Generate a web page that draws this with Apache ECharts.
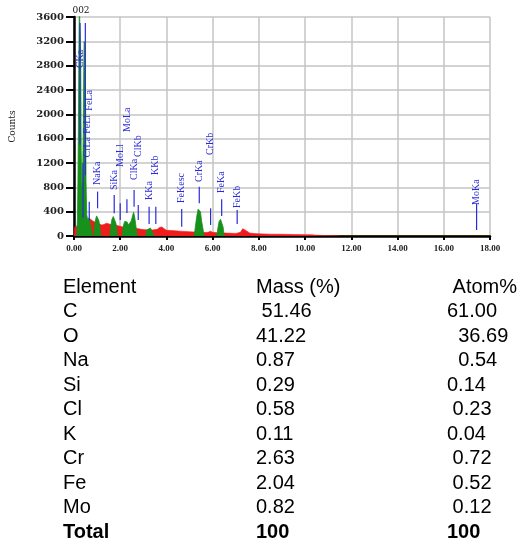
<!DOCTYPE html>
<html>
<head>
<meta charset="utf-8">
<script src="https://cdn.jsdelivr.net/npm/echarts@6/dist/echarts.min.js"></script>
<style>
html,body{margin:0;padding:0;background:#fff;}
#chart{width:528px;height:545px;}
</style>
</head>
<body>
<div id="chart"></div>
<script>
// ---- spectrum data (keV, counts) ----
const redEnergy = [0,0.03,0.1,0.2,0.3,0.4,0.5,0.6,0.7,0.8,0.9,1.0,1.1,1.2,1.3,1.4,1.5,1.6,1.7,1.8,1.9,2.0,2.1,2.2,2.3,2.4,2.5,2.6,2.7,2.8,2.9,3.0,3.2,3.4,3.6,3.7,3.8,3.9,4.0,4.2,4.4,4.6,4.8,5.0,5.2,5.4,5.6,5.8,5.9,6.0,6.2,6.4,6.6,6.8,7.0,7.2,7.3,7.4,7.6,7.8,8.0,8.5,9.0,9.5,10.0,10.3,10.5,10.8,11.2,11.5];
const redCounts = [0,150,160,170,180,200,230,260,280,250,230,220,200,180,190,210,200,190,200,180,170,160,150,150,140,140,130,130,125,120,110,105,100,100,110,140,150,120,95,90,85,80,75,70,65,60,58,60,80,60,55,50,48,45,42,60,120,100,50,40,35,30,28,25,22,20,12,8,5,0];

const greenEnergy = [0.12,0.15,0.17,0.19,0.21,0.23,0.26,0.29,0.31,0.34,0.37,0.40,0.42,0.44,0.47,0.50,0.52,0.55,0.60,0.65,0.70,0.75,0.80,0.82,
  0.86,0.89,0.93,0.98,1.03,1.08,1.12,1.16,1.20,
  1.55,1.59,1.64,1.70,1.76,1.82,1.88,1.95,
  2.08,2.13,2.19,2.24,2.30,2.36,2.42,2.48,2.54,2.58,2.63,2.68,2.74,2.80,
  3.10,3.15,3.22,3.31,3.38,3.46,3.50,
  5.20,5.25,5.31,5.37,5.42,5.47,5.52,5.58,5.63,5.70,
  6.18,6.23,6.28,6.34,6.40,6.45,6.50];
const greenCounts = [0,300,900,1800,2900,3800,3800,3000,1400,800,900,1700,2700,3200,3150,2200,900,350,250,300,200,120,0,null,
  0,150,270,330,320,250,130,0,null,
  0,150,270,320,300,200,0,null,
  0,160,240,265,230,180,200,250,340,390,300,160,0,null,
  0,100,125,130,115,0,null,
  0,150,320,440,455,400,250,120,0,null,
  0,140,240,275,250,150,0];

// ---- peak markers ----
const markerNames  = ["CKa","OKa","","CrLa","FeLl","FeLa","NaKa","SiKa","MoLl","MoLa","ClKa","ClKb","KKa","KKb","FeKesc","CrKa","CrKb","FeKa","FeKb","MoKa"];
const markerEnergy = [0.26,0.49,0.39,0.60,0.60,0.66,1.02,1.74,2.00,2.29,2.60,2.78,3.25,3.54,4.66,5.42,5.91,6.39,7.06,17.42];
const markerTop    = [3500,3500,1200,null,null,564,730,674,537,603,756,510,482,482,444,810,455,603,427,526];
const markerBottom = [1500,1000,300,null,null,263,455,373,263,378,482,263,197,197,153,537,181,329,197,99];
const labelBase    = [2760,null,null,1290,1680,2060,840,756,1134,1710,920,1300,592,1003,543,888,1332,707,460,510];

// ---- axis ticks ----
const xTicks = [0,2,4,6,8,10,12,14,16,18];
const yTicks = [0,400,800,1200,1600,2000,2400,2800,3200,3600];

// ---- composition table ----
const tableHeader = ["Element","Mass (%)","Atom%"];
const elements = ["C","O","Na","Si","Cl","K","Cr","Fe","Mo"];
const massPct  = ["51.46","41.22","0.87","0.29","0.58","0.11","2.63","2.04","0.82"];
const atomPct  = ["61.00","36.69","0.54","0.14","0.23","0.04","0.72","0.52","0.12"];
const totalRow = ["Total","100","100"];

// ---------------- layout / rendering ----------------
const chart = echarts.init(document.getElementById('chart'), null, {renderer:'canvas'});

const redData = redEnergy.map((e,i)=>[e, redCounts[i]]);
const greenData = greenEnergy.map((e,i)=>[e, greenCounts[i]==null ? '-' : greenCounts[i]]);
const markerData = markerEnergy.map((e,i)=>[e, markerTop[i]==null ? 0 : markerTop[i]]);

const blue = '#2b2bd9';
const tableFont = '20px "Liberation Sans", Arial, sans-serif';
const tableFontBold = 'bold 20px "Liberation Sans", Arial, sans-serif';
const colX = [63, 256, 447];
const massIndent = [5.6,0,0,0,0,0,0,0,0];
const atomIndent = [0,11.2,11.2,0,5.6,0,5.6,5.6,5.6];
const rowY0 = 287, rowStep = 24.5;

const graphics = [];
function addText(x, y, t, font){
  graphics.push({type:'text', x:x, y:y, style:{text:t, font:font, fill:'#000', align:'left', verticalAlign:'middle'}});
}
addText(colX[0], rowY0, tableHeader[0], tableFont);
addText(colX[1], rowY0, tableHeader[1], tableFont);
addText(colX[2]+5.6, rowY0, tableHeader[2], tableFont);
elements.forEach((el,i)=>{
  const y = rowY0 + rowStep*(i+1);
  addText(colX[0], y, el, tableFont);
  addText(colX[1]+massIndent[i], y, massPct[i], tableFont);
  addText(colX[2]+atomIndent[i], y, atomPct[i], tableFont);
});
const yTot = rowY0 + rowStep*(elements.length+1);
addText(colX[0], yTot, totalRow[0], tableFontBold);
addText(colX[1], yTot, totalRow[1], tableFontBold);
addText(colX[2], yTot, totalRow[2], tableFontBold);
graphics.push({type:'text', x:81, y:11, style:{text:'002', font:'9px "DejaVu Serif", serif', fill:'#111', align:'center', verticalAlign:'middle'}});

const option = {
  animation:false,
  backgroundColor:'#fff',
  grid:{left:73, right:38, top:17, bottom:309, containLabel:false},
  xAxis:[{
    type:'value', min:xTicks[0], max:xTicks[xTicks.length-1], interval:2,
    axisLine:{show:true, onZero:false, lineStyle:{color:'#c8c800', width:2}},
    axisTick:{show:true, length:4, lineStyle:{color:'#000', width:2}},
    axisLabel:{margin:8, formatter:v=>v.toFixed(2), color:'#222', fontFamily:'"Liberation Serif", serif', fontWeight:'bold', fontSize:9},
    splitLine:{show:true, lineStyle:{color:'#c4c4c4', width:1.5}}
  },{
    type:'value', position:'top', min:0, max:18,
    axisLine:{show:true, lineStyle:{color:'#000', width:2.5}},
    axisTick:{show:false}, axisLabel:{show:false}, splitLine:{show:false}
  }],
  yAxis:[{
    type:'value', min:yTicks[0], max:yTicks[yTicks.length-1], interval:400,
    name:'Counts', nameLocation:'middle', nameGap:57, nameRotate:90,
    nameTextStyle:{fontFamily:'"DejaVu Serif", serif', fontSize:9, color:'#222'},
    axisLine:{show:true, onZero:false, lineStyle:{color:'#888', width:1}},
    axisTick:{show:true, length:8, lineStyle:{color:'#000', width:2}},
    axisLabel:{margin:10, formatter:v=>String(v), color:'#222', fontFamily:'"DejaVu Serif", serif', fontWeight:'bold', fontSize:10},
    splitLine:{show:true, lineStyle:{color:'#c4c4c4', width:1.5}}
  },{
    type:'value', position:'right', min:0, max:3600,
    axisLine:{show:true, lineStyle:{color:'#000', width:2.5}},
    axisTick:{show:false}, axisLabel:{show:false}, splitLine:{show:false}
  }],
  series:[
    {type:'line', data:redData, showSymbol:false, symbol:'none', z:2,
     lineStyle:{color:'#ee1c1c', width:0.6}, areaStyle:{color:'#ee1c1c', opacity:1}},
    {type:'line', data:greenData, showSymbol:false, symbol:'none', z:3, connectNulls:false,
     lineStyle:{color:'#17901c', width:0.8}, areaStyle:{color:'#17901c', opacity:1}},
    {type:'custom', data:markerData, z:4, clip:false,
     renderItem:function(params, api){
       const i = params.dataIndex;
       const e = api.value(0);
       const children = [];
       if (markerTop[i] != null){
         const p1 = api.coord([e, markerTop[i]]);
         const p2 = api.coord([e, markerBottom[i]]);
         children.push({type:'line', shape:{x1:p1[0], y1:p1[1], x2:p2[0], y2:p2[1]}, style:{stroke:blue, lineWidth:1.2}});
       }
       if (labelBase[i] != null){
         const p = api.coord([e, labelBase[i]]);
         children.push({type:'text', x:p[0], y:p[1], rotation:Math.PI/2,
           style:{text:markerNames[i], fill:blue, font:'10px "Liberation Serif", serif', align:'left', verticalAlign:'middle'}});
       }
       return {type:'group', children:children};
     }}
  ],
  graphic:graphics
};
chart.setOption(option);
</script>
</body>
</html>
